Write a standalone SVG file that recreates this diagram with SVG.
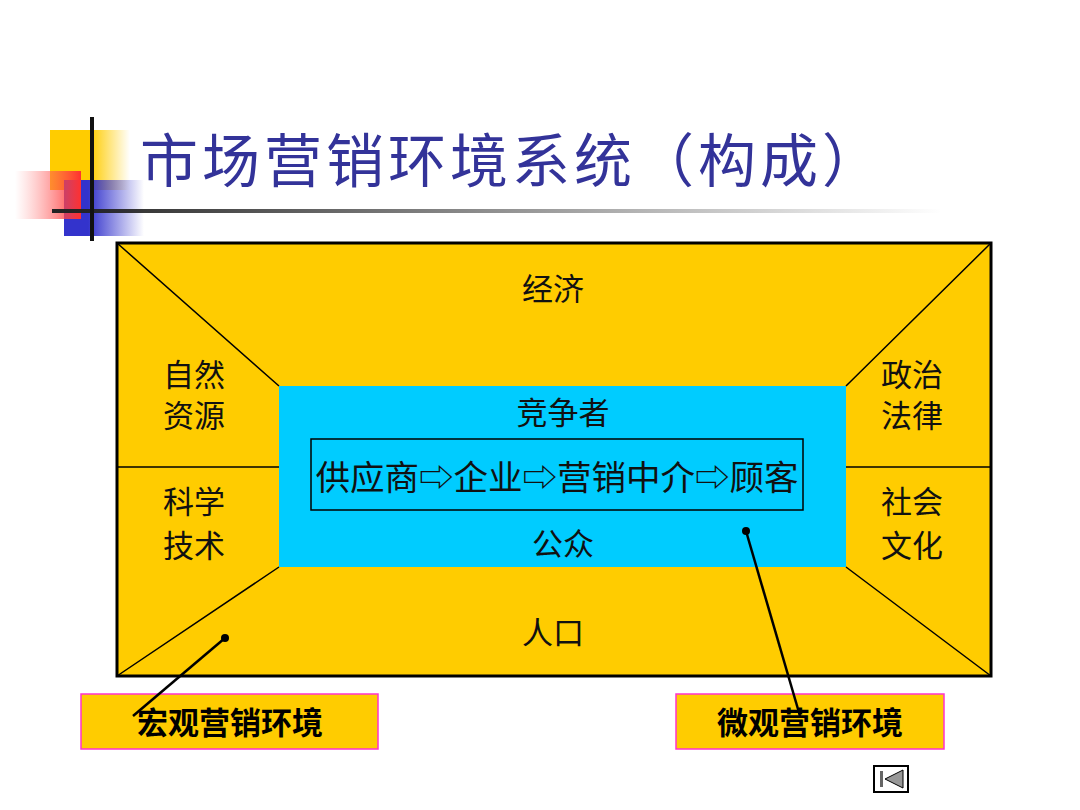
<svg xmlns="http://www.w3.org/2000/svg" width="1080" height="810" viewBox="0 0 1080 810">
<defs>
<linearGradient id="gy" x1="0" x2="1"><stop offset="0.5" stop-color="#ffcc00"/><stop offset="1" stop-color="#ffcc00" stop-opacity="0"/></linearGradient>
<linearGradient id="gr" x1="1" x2="0"><stop offset="0" stop-color="#ff3030"/><stop offset="1" stop-color="#ff8080" stop-opacity="0"/></linearGradient>
<linearGradient id="gb" x1="0" x2="1"><stop offset="0.3" stop-color="#3333cc"/><stop offset="1" stop-color="#3333cc" stop-opacity="0"/></linearGradient>
<linearGradient id="gl" x1="0" x2="1"><stop offset="0" stop-color="#222"/><stop offset="1" stop-color="#222" stop-opacity="0"/></linearGradient>
<style>
.t{font-family:"Noto Sans CJK SC","Liberation Serif",serif;font-size:31px;fill:#111;text-anchor:middle}
.b{font-family:"Noto Sans CJK SC",sans-serif;font-size:31px;font-weight:bold;fill:#000;text-anchor:middle}
.ln{stroke:#000;stroke-width:1.5;fill:none}
</style>
</defs>
<g id="deco">
<rect x="50" y="130" width="80" height="60" fill="url(#gy)"/>
<rect x="64" y="180" width="80" height="56" fill="url(#gb)"/>
<rect x="15" y="171" width="66" height="48" fill="url(#gr)"/>
<rect x="52" y="209" width="890" height="4" fill="url(#gl)"/>
<rect x="90" y="117" width="4" height="124" fill="#111"/>
</g>
<text id="title" x="140" y="182" font-family="Noto Sans CJK SC,serif" font-size="58" letter-spacing="4" fill="#333399">市场营销环境系统（构成）</text>
<g id="outer">
<rect x="117" y="243" width="874" height="433" fill="#ffcc00" stroke="#000" stroke-width="3"/>
</g>
<g id="inner">
<rect x="279" y="386" width="567" height="181" fill="#00ccff"/>
<rect x="311" y="439" width="492" height="71" fill="none" stroke="#000" stroke-width="1.5"/>
</g>
<g id="labels">
<text class="t" x="553" y="300">经济</text>
<text class="t" x="194" y="386">自然</text>
<text class="t" x="194" y="427">资源</text>
<text class="t" x="194" y="513">科学</text>
<text class="t" x="194" y="557">技术</text>
<text class="t" x="912" y="386">政治</text>
<text class="t" x="912" y="427">法律</text>
<text class="t" x="912" y="513">社会</text>
<text class="t" x="912" y="557">文化</text>
<text class="t" x="563" y="424">竞争者</text>
<text class="t" x="557" y="490" style="font-size:34.5px">供应商⇨企业⇨营销中介⇨顾客</text>
<text class="t" x="563" y="555">公众</text>
<text class="t" x="553" y="644">人口</text>
</g>
<g id="macro">
<rect x="81" y="694" width="297" height="55" fill="#ffcc00" stroke="#ff33cc" stroke-width="1.5"/>
<text class="b" x="230" y="734">宏观营销环境</text>
</g>
<g id="micro">
<rect x="676" y="694" width="268" height="55" fill="#ffcc00" stroke="#ff33cc" stroke-width="1.5"/>
<text class="b" x="810" y="734">微观营销环境</text>
</g>
<g id="lines">
<path class="ln" d="M117 243L279 386M991 243L846 386M117 676L279 567M991 676L846 567M117 467H279M846 467H991"/>
<line x1="225" y1="638" x2="133" y2="716" stroke="#000" stroke-width="2.5"/>
<circle cx="225" cy="638" r="4"/>
<line x1="746" y1="531" x2="800" y2="716" stroke="#000" stroke-width="2.5"/>
<circle cx="746" cy="531" r="4"/>
</g>
<g id="navbtn">
<rect x="874" y="766" width="34" height="26" fill="#fff" stroke="#000" stroke-width="2"/>
<rect x="880" y="771" width="3" height="16" fill="#666"/>
<polygon points="885,779 903,770 903,788" fill="#999" stroke="#000" stroke-width="1"/>
</g>
</svg>
